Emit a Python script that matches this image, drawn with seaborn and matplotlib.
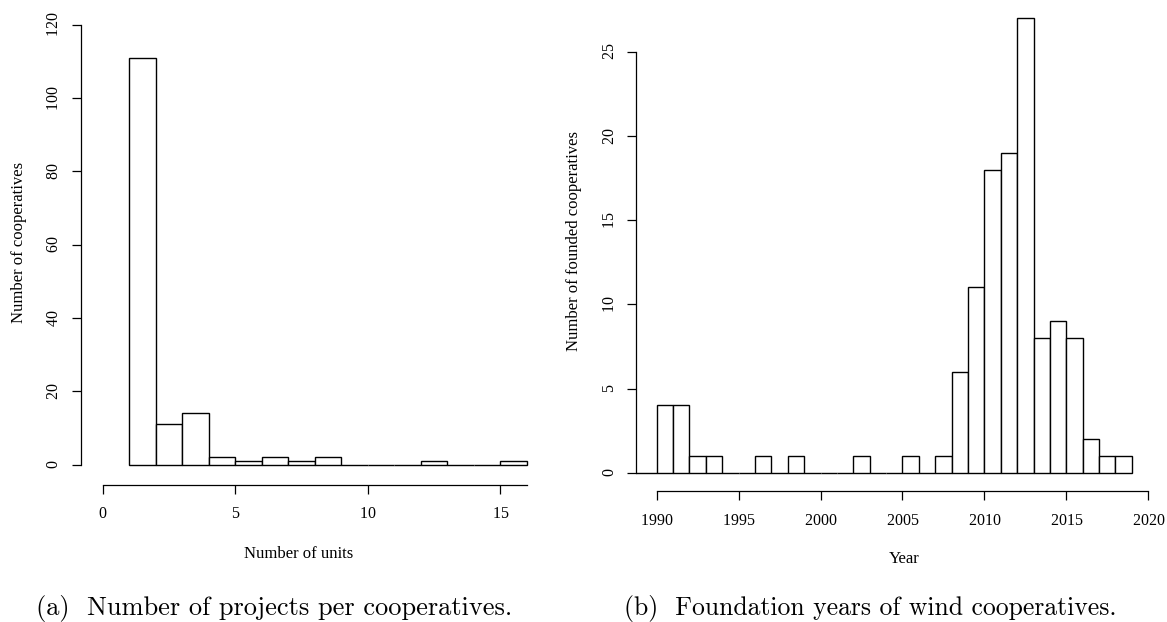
import numpy as np
import pandas as pd
import matplotlib
matplotlib.use("Agg")
import matplotlib.pyplot as plt
import seaborn as sns

# ---- data ----
units = [1, 2, 3, 4, 5, 6, 7, 8, 9, 10, 11, 12, 13, 14, 15]
unit_counts = [111, 11, 14, 2, 1, 2, 1, 2, 0, 0, 0, 1, 0, 0, 1]

years = [1990, 1991, 1992, 1993, 1994, 1995, 1996, 1997, 1998, 1999,
         2000, 2001, 2002, 2003, 2004, 2005, 2006, 2007, 2008, 2009,
         2010, 2011, 2012, 2013, 2014, 2015, 2016, 2017, 2018]
year_counts = [4, 4, 1, 1, 0, 0, 1, 0, 1, 0,
               0, 0, 1, 0, 0, 1, 0, 1, 6, 11,
               18, 19, 27, 8, 9, 8, 2, 1, 1]

left_xticks = [0, 5, 10, 15]
left_yticks = [0, 20, 40, 60, 80, 100, 120]
right_xticks = [1990, 1995, 2000, 2005, 2010, 2015, 2020]
right_yticks = [0, 5, 10, 15, 20, 25]

left_xlabel = "Number of units"
left_ylabel = "Number of cooperatives"
right_xlabel = "Year"
right_ylabel = "Number of founded cooperatives"
caption_a = "(a)  Number of projects per cooperatives."
caption_b = "(b)  Foundation years of wind cooperatives."

# ---- style ----
sns.set_theme(style="white")
plt.rcParams["font.family"] = ["Liberation Serif", "DejaVu Serif"]
plt.rcParams["axes.formatter.use_mathtext"] = True
plt.rcParams["text.color"] = "black"
plt.rcParams["axes.labelcolor"] = "black"

W, H = 1167, 622
fig = plt.figure(figsize=(W / 100, H / 100), dpi=100)
fig.patch.set_facecolor("white")


def px_axes(x0, x1, y_bottom, y_top):
    return fig.add_axes([x0 / W, 1 - y_bottom / H, (x1 - x0) / W, (y_bottom - y_top) / H])


def style_axes(ax, xb, yb, offset_px):
    ax.set_facecolor("white")
    for s in ("top", "right"):
        ax.spines[s].set_visible(False)
    ax.spines["left"].set_bounds(*yb)
    ax.spines["bottom"].set_bounds(*xb)
    ax.spines["bottom"].set_position(("outward", offset_px * 0.72))
    for s in ("left", "bottom"):
        ax.spines[s].set_color("black")
        ax.spines[s].set_linewidth(0.9)
    ax.tick_params(axis="both", which="major", direction="out", length=6.5, width=0.9,
                   color="black", labelsize=11.5, labelcolor="black",
                   bottom=True, left=True, top=False, right=False)
    ax.tick_params(axis="x", pad=9)
    ax.tick_params(axis="y", pad=7)
    for lab in ax.get_yticklabels():
        lab.set_rotation(90)
        lab.set_va("center")
        lab.set_ha("right")
    ax.grid(False)


def hist(ax, x, w):
    df = pd.DataFrame({"x": x, "w": w})
    sns.histplot(data=df, x="x", weights="w", binwidth=1,
                 binrange=(min(x), max(x) + 1), ax=ax,
                 stat="count", fill=True, color="white", edgecolor="black",
                 linewidth=1.0, alpha=1.0)
    for p in ax.patches:
        p.set_facecolor("white")
        p.set_edgecolor("black")
        p.set_clip_on(False)


# ---- left panel ----
axL = px_axes(81, 527.0, 464.5, 24.7)
hist(axL, units, unit_counts)
axL.set_xlim(-0.818, 16.0)
axL.set_ylim(0, 120)
axL.set_xticks(left_xticks)
axL.set_yticks(left_yticks)
style_axes(axL, (0, 16), (0, 120), 20)
axL.set_xlabel(left_xlabel, fontsize=12, color="black")
axL.set_ylabel(left_ylabel, fontsize=12, color="black")
axL.xaxis.set_label_coords(299 / W, 1 - 553.6 / H, transform=fig.transFigure)
axL.yaxis.set_label_coords(18.9 / W, 1 - 242 / H, transform=fig.transFigure)
axL.xaxis.label.set_va("center")
axL.yaxis.label.set_va("center")

# ---- right panel ----
axR = px_axes(636.3, 1149.9, 472.7, 9.6)
hist(axR, years, year_counts)
axR.set_xlim(1988.755, 2020.1)
axR.set_ylim(0, 27.5)
axR.hlines(0, axR.get_xlim()[0], years[0], color="black", linewidth=1.0, clip_on=False)
axR.set_xticks(right_xticks)
axR.set_yticks(right_yticks)
style_axes(axR, (1990, 2020), (0, 25), 18.3)
axR.set_xlabel(right_xlabel, fontsize=12, color="black")
axR.set_ylabel(right_ylabel, fontsize=12, color="black")
axR.xaxis.set_label_coords(903.8 / W, 1 - 558.7 / H, transform=fig.transFigure)
axR.yaxis.set_label_coords(574.3 / W, 1 - 241 / H, transform=fig.transFigure)
axR.xaxis.label.set_va("center")
axR.yaxis.label.set_va("center")

# ---- captions ----
fig.text(274 / W, 1 - 615.5 / H, caption_a, ha="center", va="baseline",
         fontsize=19, family=["cmr10", "DejaVu Serif"], color="black")
fig.text(870 / W, 1 - 615.5 / H, caption_b, ha="center", va="baseline",
         fontsize=18.5, family=["cmr10", "DejaVu Serif"], color="black")

fig.savefig("out.png", dpi=100, facecolor="white")
